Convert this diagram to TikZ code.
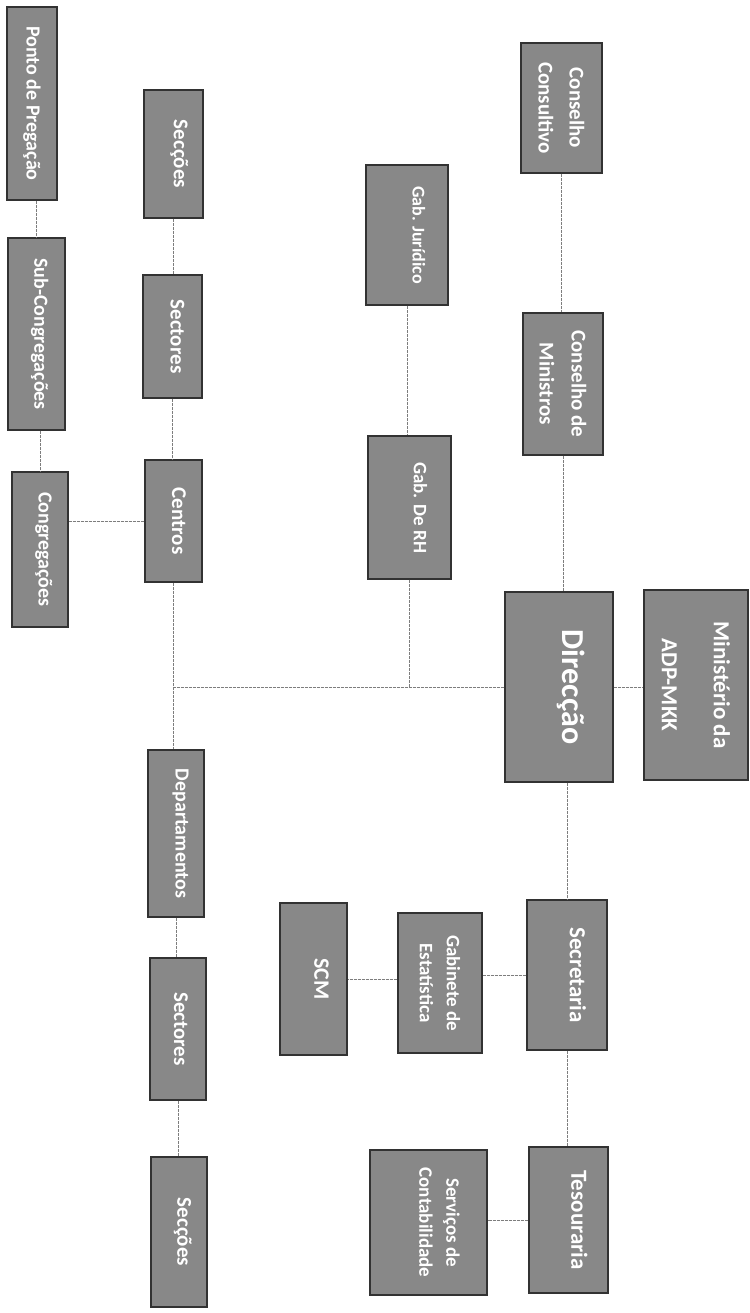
\documentclass[tikz,border=0pt]{standalone}
\usepackage{fontspec}
\setmainfont{Carlito}
\newcommand\myfs[1]{\fontsize{#1}{1.5\dimexpr #1pt\relax}\selectfont\bfseries}
\definecolor{boxfill}{RGB}{136,136,136}
\definecolor{boxline}{RGB}{50,50,50}
\definecolor{linegray}{RGB}{125,125,125}
\tikzset{
  box/.style={draw=boxline, line width=1.3pt, fill=boxfill, text=white,
    rotate=-90, inner sep=0pt, align=center},
  lift/.style={text depth=#1},
  conn/.style={draw=linegray, line width=0.7pt, dash pattern=on 3pt off 1pt}
}
\begin{document}
\begin{tikzpicture}[x=1pt,y=-1pt]
\useasboundingbox[fill=white] (0,0) rectangle (749,1313);
% left column
\node[box, minimum width=193, minimum height=50, font=\myfs{20}] (ponto) at (32,103.5) {Ponto de Pregação};
\node[box, lift=10pt, minimum width=192, minimum height=57, font=\myfs{20}] (subcong) at (36.5,334) {Sub-Congregações};
\node[box, lift=11pt, minimum width=155, minimum height=56, font=\myfs{20}] (cong) at (40,549.5) {Congregações};
% second column
\node[box, lift=15pt, minimum width=128, minimum height=59, font=\myfs{21}] (secc1) at (173.5,154) {Secções};
\node[box, lift=10pt, minimum width=123, minimum height=59, font=\myfs{21}] (sect1) at (172.5,336.5) {Sectores};
\node[box, lift=11pt, minimum width=122, minimum height=57, font=\myfs{21}] (centros) at (173.5,521) {Centros};
\node[box, lift=12pt, minimum width=167, minimum height=56, font=\myfs{20}] (dept) at (176,833.5) {Departamentos};
\node[box, lift=6pt, minimum width=142, minimum height=56, font=\myfs{21}] (sect2) at (178,1029) {Sectores};
\node[box, lift=11pt, minimum width=150, minimum height=56, font=\myfs{21}] (secc2) at (179,1232) {Secções};
% third column
\node[box, lift=24pt, minimum width=140, minimum height=82, font=\myfs{18}] (gabjur) at (407,235) {Gab. Jurídico};
\node[box, lift=22pt, minimum width=143, minimum height=83, font=\myfs{19}] (gabrh) at (409.5,507.5) {Gab. De RH};
\node[box, lift=16pt, minimum width=152, minimum height=67, font=\myfs{22}] (scm) at (313.5,979) {SCM};
\node[box, minimum width=140, minimum height=84, font=\fontsize{19}{27}\selectfont\bfseries] (gabest) at (440,983) {Gabinete de\\Estatística};
\node[box, lift=22pt, minimum width=145, minimum height=117, font=\fontsize{19}{27}\selectfont\bfseries] (servcont) at (428.5,1222.5) {Serviços de\\Contabilidade};
% fourth column
\node[box, minimum width=130, minimum height=81, font=\fontsize{21}{31}\selectfont\bfseries] (conscons) at (561.5,108) {Conselho\\Consultivo};
\node[box, minimum width=142, minimum height=80, font=\fontsize{21}{32}\selectfont\bfseries] (consmin) at (563,384) {Conselho de\\Ministros};
\node[box, lift=30pt, minimum width=190, minimum height=108, font=\myfs{32}] (direccao) at (559,687) {Direcção};
\node[box, lift=22pt, minimum width=150, minimum height=80, font=\myfs{23}] (secretaria) at (567,975) {Secretaria};
\node[box, lift=22pt, minimum width=146, minimum height=79, font=\myfs{23}] (tesouraria) at (568.5,1220) {Tesouraria};
% right
\node[box, minimum width=190, minimum height=104, font=\fontsize{23}{52}\selectfont\bfseries] (ministerio) at (696,685) {Ministério da\\ADP-MKK};
% connectors
\coordinate (bus) at (centros.east |- direccao.south);
\draw[conn] (subcong.west |- ponto.east) -- (subcong.west);
\draw[conn] (cong.west |- subcong.east) -- (cong.west);
\draw[conn] (centros.south) -- (centros.south -| cong.north);
\draw[conn] (secc1.east) -- (secc1.east |- sect1.west);
\draw[conn] (sect1.east) -- (sect1.east |- centros.west);
\draw[conn] (centros.east) -- (centros.east |- dept.west);
\draw[conn] (direccao.south) -- (bus);
\draw[conn] (dept.east) -- (dept.east |- sect2.west);
\draw[conn] (sect2.east) -- (sect2.east |- secc2.west);
\draw[conn] (gabjur.east) -- (gabjur.east |- gabrh.west);
\draw[conn] (gabrh.east) -- (gabrh.east |- bus);
\draw[conn] (conscons.east) -- (conscons.east |- consmin.west);
\draw[conn] (consmin.east) -- (consmin.east |- direccao.west);
\draw[conn] (direccao.north) -- (direccao.north -| ministerio.south);
\draw[conn] (secretaria.west |- direccao.east) -- (secretaria.west);
\draw[conn] (secretaria.south) -- (secretaria.south -| gabest.north);
\draw[conn] (gabest.south |- scm.north) -- (scm.north);
\draw[conn] (secretaria.east) -- (secretaria.east |- tesouraria.west);
\draw[conn] (tesouraria.south) -- (tesouraria.south -| servcont.north);
\end{tikzpicture}
\end{document}
